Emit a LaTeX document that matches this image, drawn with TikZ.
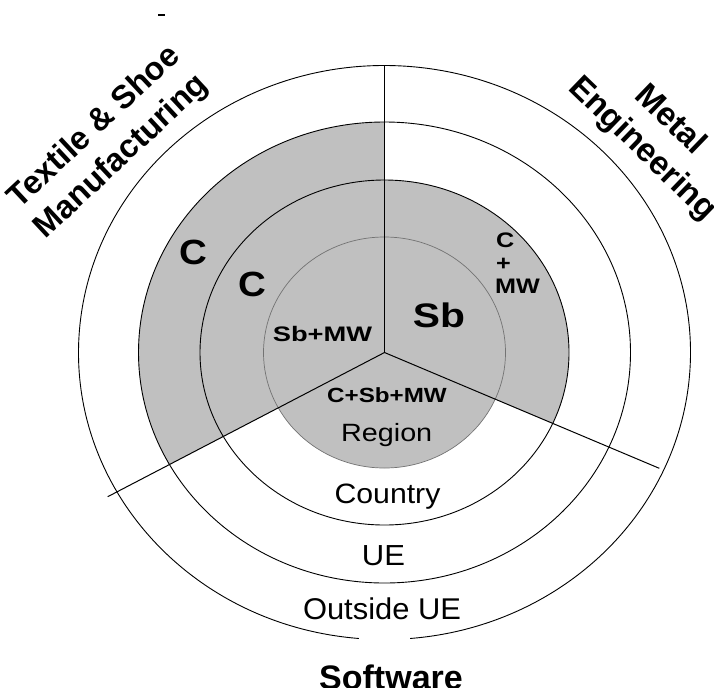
\documentclass[tikz,border=0pt]{standalone}
\usepackage{fontspec}
\setmainfont{Liberation Sans}
\usepackage{graphicx}
\definecolor{sectorgray}{RGB}{192,192,192}
\begin{document}
\begin{tikzpicture}[x=1pt,y=-1pt,
  ring/.style={draw=black, line width=0.9pt},
  innerring/.style={draw=black!55, line width=0.7pt},
  ray/.style={draw=black, line width=1pt},
  big/.style={font=\fontsize{35}{40}\selectfont\bfseries, inner sep=0pt, anchor=base},
  mid/.style={font=\fontsize{21}{23}\selectfont\bfseries, inner sep=0pt, anchor=base},
  place/.style={font=\fontsize{28}{32}\selectfont, inner sep=0pt, anchor=base},
  sectorlabel/.style={font=\fontsize{33}{40}\selectfont\bfseries, align=center, inner sep=0pt, anchor=center},
]
\useasboundingbox (0,0) rectangle (714,691);
\clip (0,0) rectangle (714,691);
\coordinate (O) at (384.5,352.5);
\coordinate (top) at (384.5,65.5);
\coordinate (L) at (107.7,496.7);
\coordinate (R) at (659.3,468.3);
% shaded sectors
\begin{scope}
  \clip (O) -- (384.5,0) -- (0,0) -- (0,552.8) -- cycle;
  \fill[sectorgray] (O) ellipse [x radius=246, y radius=230.5];
\end{scope}
\begin{scope}
  \clip (O) -- (384.5,0) -- (714,0) -- (714,491.3) -- cycle;
  \fill[sectorgray] (O) ellipse [x radius=184.5, y radius=172.5];
\end{scope}
\fill[sectorgray] (O) ellipse [x radius=121, y radius=115.5];
% rings
\draw[innerring] (O) ellipse [x radius=121, y radius=115.5];
\draw[ring] (O) ellipse [x radius=184.5, y radius=172.5];
\draw[ring] (O) ellipse [x radius=246, y radius=230.5];
\draw[ring] (O) ++(94.8:306 and 287) arc[start angle=94.8, end angle=445.2, x radius=306, y radius=287];
% rays
\draw[ray] (O) -- (top);
\draw[ray] (O) -- (L);
\draw[ray] (O) -- (R);
% small mark at top
\draw[line width=1.5pt] (158,15) -- (165,15);
% labels
\node[big] (c1) at (193.3,264.8) {\scalebox{1.1}[1]{C}};
\node[big] (c2) at (252.7,296.8) {\scalebox{1.1}[1]{C}};
\node[big, font=\fontsize{34}{40}\selectfont\bfseries] (sb) at (439,327.3) {\scalebox{1.2}[1]{Sb}};
\node[mid] (sbmw) at (322.5,341.7) {\scalebox{1.3}[1]{Sb+MW}};
\node[mid, anchor=base west] (cmw1) at (496,247) {\scalebox{1.2}[1]{C}};
\node[mid, anchor=base west] (cmw2) at (496,270) {\scalebox{1.2}[1]{+}};
\node[mid, anchor=base west] (cmw3) at (495,293) {\scalebox{1.2}[1]{MW}};
\node[mid, font=\fontsize{20.5}{23}\selectfont\bfseries] (csbmw) at (387,402) {\scalebox{1.18}[1]{C+Sb+MW}};
\node[place, font=\fontsize{25}{30}\selectfont] (region) at (386.7,441.7) {\scalebox{1.15}[1]{Region}};
\node[place] (country) at (387.5,503) {\scalebox{1.08}[1]{Country}};
\node[place, font=\fontsize{29}{32}\selectfont] (ue) at (383.5,565) {\scalebox{1.07}[1]{UE}};
\node[place, font=\fontsize{30}{32}\selectfont] (outside) at (382,619) {\scalebox{1.03}[1]{Outside UE}};
\begin{scope}
  \clip (0,0) rectangle (714,687);
  \node[place, font=\fontsize{34}{38}\selectfont\bfseries] (software) at (391,689.5) {Software};
\end{scope}
\node[sectorlabel, font=\fontsize{32.5}{40}\selectfont\bfseries, rotate=43] (textile) at (108.3,142.5) {Textile \& Shoe\\Manufacturing};
\node[sectorlabel, rotate=-44] (metal) at (656,135) {Metal\\Engineering};
\end{tikzpicture}
\end{document}
